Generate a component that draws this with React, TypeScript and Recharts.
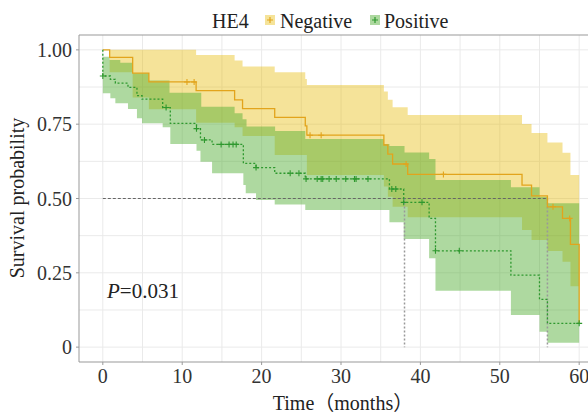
import React from 'react';
import { ComposedChart, Area, Line, Scatter, XAxis, YAxis, CartesianGrid, ReferenceLine } from 'recharts';

// Kaplan-Meier curves (time in months, survival probability)
const negTime = [0, 0.86, 3.76, 5.8, 11.75, 16.6, 17.6, 21.65, 25.5, 25.7, 35.4, 35.9, 36.5, 38.4, 52.8, 54.0, 56.0, 57.9, 58.9, 60];
const negSurv = [1.0, 0.975, 0.922, 0.892, 0.863, 0.832, 0.802, 0.773, 0.744, 0.713, 0.68, 0.649, 0.616, 0.581, 0.545, 0.509, 0.472, 0.433, 0.346, 0.08];
const negCensor = [10.6, 11.5, 26.1, 27.5, 38.2, 42.9, 56.7, 58.8];

const posTime = [0, 0, 0.95, 1.58, 3.17, 4.3, 4.94, 7.54, 8.5, 11.8, 12.3, 13.76, 17.7, 19.3, 21.65, 25.5, 36.1, 37.9, 41.1, 41.9, 51.4, 55.0, 56.0, 60];
const posSurv = [1.0, 0.912, 0.901, 0.888, 0.874, 0.846, 0.834, 0.806, 0.753, 0.735, 0.697, 0.682, 0.618, 0.604, 0.585, 0.566, 0.532, 0.487, 0.433, 0.324, 0.242, 0.161, 0.08, 0.08];
const posCensor = [0, 7.97, 11.8, 12.8, 14.9, 15.9, 16.4, 16.8, 19.3, 23.6, 24.7, 25.6, 27.0, 27.5, 27.7, 28.5, 29.4, 30.6, 31.7, 31.9, 33.4, 36.4, 36.9, 37.9, 40.2, 41.9, 44.9, 60];

// confidence bands
const negUpT = [0, 0.86, 11.75, 16.6, 17.6, 21.65, 25.5, 25.7, 35.4, 35.9, 36.5, 38.4, 52.8, 54.0, 56.0, 57.9, 58.9, 60];
const negUpV = [1, 1, 0.983, 0.964, 0.944, 0.925, 0.902, 0.882, 0.86, 0.832, 0.807, 0.781, 0.751, 0.72, 0.688, 0.654, 0.579, 0.579];
const negLoT = [0, 0.86, 3.76, 5.8, 11.75, 16.6, 17.6, 21.65, 25.7, 35.4, 35.9, 36.5, 38.4, 52.8, 54.0, 56.0, 57.9, 58.9, 60];
const negLoV = [1, 0.925, 0.84, 0.8, 0.755, 0.74, 0.71, 0.646, 0.579, 0.54, 0.506, 0.472, 0.437, 0.394, 0.36, 0.323, 0.287, 0.205, 0.205];

const posUpT = [0, 0.86, 2.2, 3.76, 5.8, 8.4, 12.4, 16.6, 17.6, 18.1, 21.7, 25.5, 35.4, 36.1, 38.0, 41.1, 41.9, 51.4, 55.0, 56.0, 60];
const posUpV = [0.977, 0.966, 0.957, 0.921, 0.897, 0.856, 0.809, 0.787, 0.767, 0.742, 0.727, 0.7, 0.683, 0.677, 0.655, 0.633, 0.562, 0.538, 0.506, 0.484, 0.484];
const posLoT = [0, 0.95, 1.58, 3.17, 4.3, 4.94, 7.54, 8.5, 11.8, 12.3, 13.76, 17.7, 18.0, 19.3, 21.65, 25.5, 36.1, 37.9, 41.1, 41.9, 51.4, 55.0, 56.0, 60];
const posLoV = [0.854, 0.837, 0.82, 0.801, 0.77, 0.753, 0.74, 0.683, 0.661, 0.624, 0.585, 0.545, 0.518, 0.495, 0.48, 0.461, 0.42, 0.364, 0.299, 0.19, 0.108, 0.052, 0.015, 0.015];

const medianTimes = [38, 56];
const xTicks = [0, 10, 20, 30, 40, 50, 60];
const yTicks = [0, 0.25, 0.5, 0.75, 1];
const xGrid = [0, 5, 10, 15, 20, 25, 30, 35, 40, 45, 50, 55, 60];
const yGrid = [0, 0.125, 0.25, 0.375, 0.5, 0.625, 0.75, 0.875, 1];

const X_MIN = -3, X_MAX = 63, Y_MIN = -0.05, Y_MAX = 1.05;

const NEG = '#E2A41C';
const POS = '#2E982E';
const FONT = "'Liberation Serif', 'Noto Sans CJK SC', serif";

const stepAt = (ts: number[], vs: number[], t: number) => {
  let v = vs[0];
  for (let i = 0; i < ts.length; i++) if (ts[i] <= t) v = vs[i];
  return v;
};

const band = (loT: number[], loV: number[], upT: number[], upV: number[]) => {
  const times = Array.from(new Set([...loT, ...upT])).sort((a, b) => a - b);
  return times.map(t => ({ t, range: [stepAt(loT, loV, t), stepAt(upT, upV, t)] }));
};

const negBand = band(negLoT, negLoV, negUpT, negUpV);
const posBand = band(posLoT, posLoV, posUpT, posUpV);
const negLine = negTime.map((t, i) => ({ t, s: negSurv[i] }));
const posLine = posTime.map((t, i) => ({ t, s: posSurv[i] }));
const negMarks = negCensor.map(t => ({ t, s: stepAt(negTime, negSurv, t) }));
const posMarks = posCensor.map(t => ({ t, s: stepAt(posTime, posSurv, t) }));

const plus = (color: string) => (props: any) => {
  const { cx, cy } = props;
  return <path d={`M${cx - 3},${cy}h6M${cx},${cy - 3}v6`} stroke={color} strokeWidth={1.1} fill="none" />;
};

const fmtY = (v: number) => (v === 0 ? '0' : v.toFixed(2));

const tickStyle = { fontFamily: FONT, fontSize: 20, fill: '#333' };
const txt = { fontFamily: FONT };

export default function App() {
  return (
    <div style={{ position: 'absolute', left: 0, top: 0, width: 588, height: 415, overflow: 'hidden', background: '#fff', fontFamily: FONT }}>
      <ComposedChart width={603} height={415} margin={{ top: 35, right: 0, bottom: 0, left: 0 }} style={{ fontFamily: FONT }}>
        <CartesianGrid
          stroke="#EAEAEA"
          horizontalCoordinatesGenerator={({ yAxis, offset }: any) =>
            yGrid.map(v => (yAxis && typeof yAxis.scale === 'function' ? yAxis.scale(v) : offset.top + (offset.height * (Y_MAX - v)) / (Y_MAX - Y_MIN)))
          }
          verticalCoordinatesGenerator={({ xAxis, offset }: any) =>
            xGrid.map(v => (xAxis && typeof xAxis.scale === 'function' ? xAxis.scale(v) : offset.left + (offset.width * (v - X_MIN)) / (X_MAX - X_MIN)))
          }
        />
        <XAxis
          type="number"
          dataKey="t"
          domain={[X_MIN, X_MAX]}
          ticks={xTicks}
          allowDataOverflow
          height={53}
          axisLine={false}
          tickSize={3}
          tickMargin={4}
          tickLine={{ stroke: '#999' }}
          tick={tickStyle}
        />
        <YAxis
          type="number"
          domain={[Y_MIN, Y_MAX]}
          ticks={yTicks}
          allowDataOverflow
          width={79}
          axisLine={false}
          tickSize={3}
          tickMargin={4}
          tickLine={{ stroke: '#999' }}
          tickFormatter={fmtY}
          tick={tickStyle}
        />
        <Area data={negBand} dataKey="range" type="stepAfter" stroke="none" fill="#E7B800" fillOpacity={0.4} isAnimationActive={false} />
        <Area data={posBand} dataKey="range" type="stepAfter" stroke="none" fill="#4BAB2C" fillOpacity={0.45} isAnimationActive={false} />
        <ReferenceLine segment={[{ x: 0, y: 0.5 }, { x: medianTimes[1], y: 0.5 }]} stroke="#666" strokeDasharray="3 2" />
        {medianTimes.map(m => (
          <ReferenceLine key={m} segment={[{ x: m, y: 0.5 }, { x: m, y: 0 }]} stroke="#999" strokeWidth={1.5} strokeDasharray="2 2" />
        ))}
        <Line data={negLine} dataKey="s" type="stepAfter" stroke={NEG} strokeWidth={1.3} dot={false} isAnimationActive={false} />
        <Line data={posLine} dataKey="s" type="stepAfter" stroke={POS} strokeWidth={1.3} strokeDasharray="2 2" dot={false} isAnimationActive={false} />
        <Scatter data={negMarks} dataKey="s" shape={plus(NEG)} isAnimationActive={false} />
        <Scatter data={posMarks} dataKey="s" shape={plus(POS)} isAnimationActive={false} />
        <ReferenceLine x={X_MIN} stroke="#999" />
        <ReferenceLine y={Y_MAX} stroke="#999" />
        <ReferenceLine y={Y_MIN} stroke="#999" />
      </ComposedChart>
      <svg width={588} height={415} style={{ position: 'absolute', left: 0, top: 0, pointerEvents: 'none', fontFamily: FONT }}>
        <text x={212} y={28} fontSize={20} fill="#222" style={txt}>HE4</text>
        <rect x={265} y={15} width={10} height={10} fill="#F5E399" />
        <path d="M267,20h6M270,17v6" stroke={NEG} strokeWidth={1.2} />
        <text x={280} y={28} fontSize={20} fill="#222" style={txt}>Negative</text>
        <rect x={370} y={15} width={10} height={10} fill="#ADD89F" />
        <path d="M372,20h6M375,17v6" stroke={POS} strokeWidth={1.2} />
        <text x={384} y={28} fontSize={20} fill="#222" style={txt}>Positive</text>
        <text x={107} y={298} fontSize={21} fill="#222" style={txt}>
          <tspan fontStyle="italic">P</tspan>=0.031
        </text>
        <text x={343} y={410} fontSize={20} fill="#222" textAnchor="middle" style={txt}>Time（months）</text>
        <text x={0} y={0} fontSize={20} fill="#222" textAnchor="middle" transform="translate(24,198) rotate(-90)" style={txt}>Survival probability</text>
      </svg>
    </div>
  );
}
